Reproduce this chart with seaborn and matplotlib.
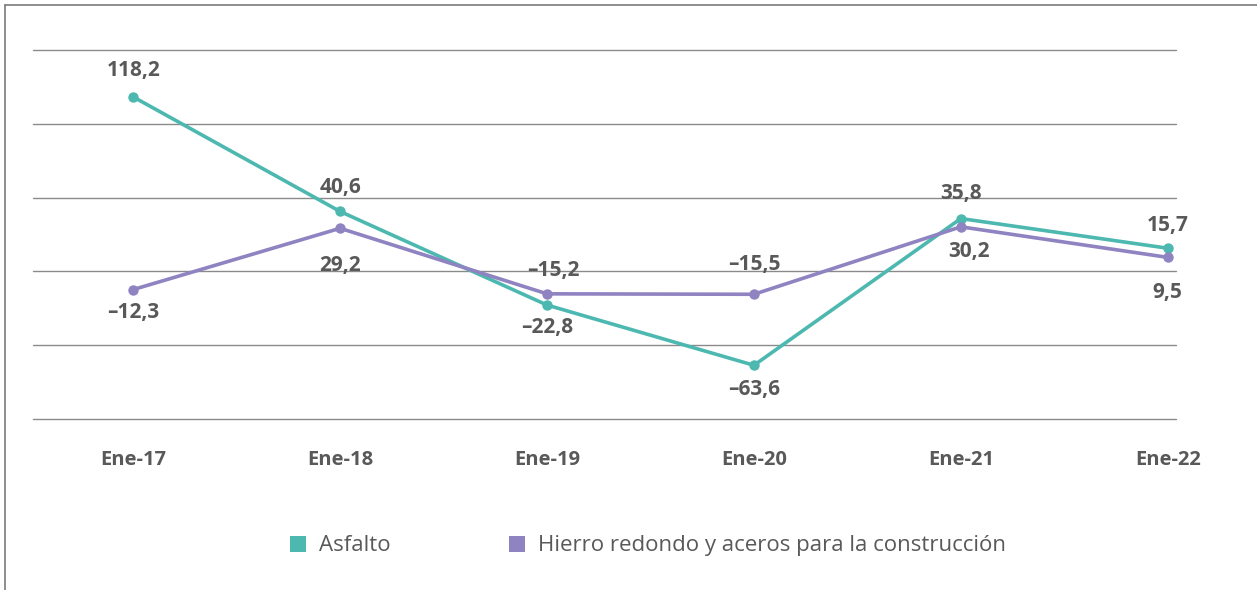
import matplotlib
matplotlib.use("Agg")
import matplotlib.pyplot as plt
from matplotlib.lines import Line2D
import seaborn as sns
import pandas as pd

categories = ["Ene-17", "Ene-18", "Ene-19", "Ene-20", "Ene-21", "Ene-22"]
asfalto = [118.2, 40.6, -22.8, -63.6, 35.8, 15.7]
hierro = [-12.3, 29.2, -15.2, -15.5, 30.2, 9.5]
series_names = ["Asfalto", "Hierro redondo y aceros para la construcción"]

# label layout (pixel offsets from each point)
asfalto_offsets = [(0, 26), (0, 24), (0, -22), (0, -24), (0, 25), (0, 23)]
hierro_offsets = [(0, -23), (0, -37), (6, 23), (0, 30), (8, -25), (0, -35)]

teal = "#4DB8B0"
purple = "#8F83C1"
text_col = "#595959"

sns.set_theme(style="white")
plt.rcParams['font.family'] = ['Open Sans', 'DejaVu Sans']

df = pd.DataFrame({
    "x": list(range(len(categories))) * 2,
    "value": asfalto + hierro,
    "serie": [series_names[0]] * len(asfalto) + [series_names[1]] * len(hierro),
})

fig = plt.figure(figsize=(12.57, 5.9), dpi=100)
ax = fig.add_axes([0.0263, 0.2898, 0.9093, 0.6255])

sns.lineplot(data=df, x="x", y="value", hue="serie",
             palette=[teal, purple], marker="o", markersize=7.5,
             markeredgewidth=0, linewidth=2.6, ax=ax, legend=False)

ax.set_ylim(-100, 150)
ax.set_xlim(-0.484, 5.04)
ax.set_yticks([-100, -50, 0, 50, 100, 150])
ax.yaxis.grid(True, color="#8a8a8a", linewidth=1.0)
for gl in ax.get_ygridlines():
    gl.set_clip_on(False)
ax.xaxis.grid(False)
ax.set_yticklabels([])
ax.tick_params(axis="y", length=0)
ax.set_xticks(range(len(categories)))
ax.set_xticklabels(categories, fontsize=14.5, fontweight="bold", color=text_col)
ax.tick_params(axis="x", length=0, pad=22)
ax.set_xlabel("")
ax.set_ylabel("")
for s in ax.spines.values():
    s.set_visible(False)

def fmt(v):
    return f"{v:.1f}".replace(".", ",").replace("-", "–")

for vals, offs in ((asfalto, asfalto_offsets), (hierro, hierro_offsets)):
    for i, (v, o) in enumerate(zip(vals, offs)):
        ax.annotate(fmt(v), (i, v), xytext=o, textcoords="offset pixels",
                    ha="center", va="center", fontsize=15, fontweight="bold",
                    color=text_col)

handles = [Line2D([], [], marker="s", linestyle="none", markersize=12,
                  markerfacecolor=c, markeredgewidth=0) for c in (teal, purple)]
fig.legend(handles, series_names, loc="center", bbox_to_anchor=(0.5147, 0.0746),
           bbox_transform=fig.transFigure, ncol=2, frameon=False,
           fontsize=16, handlelength=0.9, handletextpad=0.5,
           columnspacing=5.2, labelcolor=text_col)

# figure border (left and top)
fig.add_artist(Line2D([5 / 1257, 5 / 1257], [0, 1 - 5 / 590], color="#7a7a7a",
                      linewidth=1.2, transform=fig.transFigure))
fig.add_artist(Line2D([5 / 1257, 1], [1 - 5 / 590, 1 - 5 / 590], color="#7a7a7a",
                      linewidth=1.2, transform=fig.transFigure))

fig.savefig("out.png", dpi=100)
